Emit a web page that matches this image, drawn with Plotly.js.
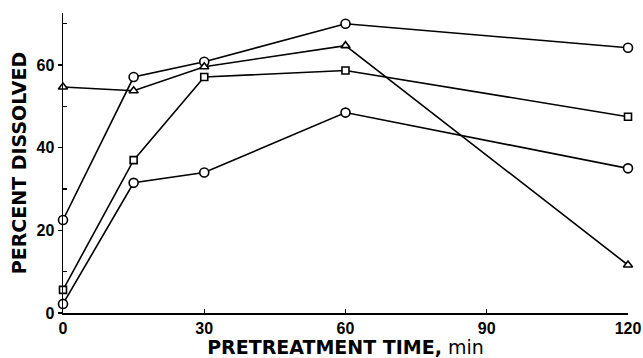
<!DOCTYPE html>
<html><head><meta charset="utf-8">
<script src="https://cdn.plot.ly/plotly-3.0.1.min.js"></script>
<style>html,body{margin:0;padding:0;background:#fff;}#chart{width:643px;height:358px;}</style>
</head><body><div id="chart"></div>
<script>
const times = [0, 15, 30, 60, 120];
const circleTop = [22.5, 57.1, 60.8, 70.0, 64.2];
const triangle = [54.7, 53.8, 59.6, 64.7, 11.6];
const square = [5.6, 37.0, 57.1, 58.7, 47.5];
const circleBottom = [2.2, 31.5, 34.0, 48.5, 35.0];
const xTicks = [0, 30, 60, 90, 120];
const yTicks = [0, 20, 40, 60];

function tr(y, sym, size) {
  return {x: times, y: y, mode: 'lines+markers', cliponaxis: false,
    line: {color: '#000', width: 1.6},
    marker: {symbol: sym, size: size, color: '#fff', line: {color: '#000', width: 1.6}}};
}
const data = [tr(circleTop,'circle',9), tr(triangle,'triangle-up',8),
              tr(square,'square',7), tr(circleBottom,'circle',9)];

const f = {family: 'Liberation Sans, Arial, sans-serif', color: '#000'};
const ft = {family: 'DejaVu Sans, sans-serif', color: '#000'};
const layout = {
  width: 643, height: 358, showlegend: false,
  margin: {l: 63, r: 15, t: 13, b: 45},
  paper_bgcolor: '#fff', plot_bgcolor: '#fff',
  xaxis: {range: [0, 120], tickvals: xTicks, ticktext: xTicks.map(v => '<b>' + v + '</b>'),
    showgrid: false, zeroline: false, showline: true, linecolor: '#000', linewidth: 1.5,
    ticks: 'inside', ticklen: 4, tickwidth: 1.2, tickcolor: '#000',
    tickfont: Object.assign({size: 16}, f),
    title: {text: '<b>PRETREATMENT TIME,</b> min', font: Object.assign({size: 19}, ft), standoff: 8}},
  yaxis: {range: [0, 72.6], tickvals: yTicks, ticktext: yTicks.map(v => '<b>' + v + '</b>'),
    showgrid: false, zeroline: false, showline: true, linecolor: '#000', linewidth: 1.5,
    ticks: 'outside', ticklen: 4, tickwidth: 1.2, tickcolor: '#000',
    tickfont: Object.assign({size: 16}, f),
    minor: {tickvals: [10, 30, 50, 70], ticks: 'inside', ticklen: 4, tickwidth: 1.2, tickcolor: '#000', showgrid: false},
    title: {text: '<b>PERCENT DISSOLVED</b>', font: Object.assign({size: 19}, ft), standoff: 5}}
};
Plotly.newPlot('chart', data, layout, {displayModeBar: false, staticPlot: true});
</script></body></html>
